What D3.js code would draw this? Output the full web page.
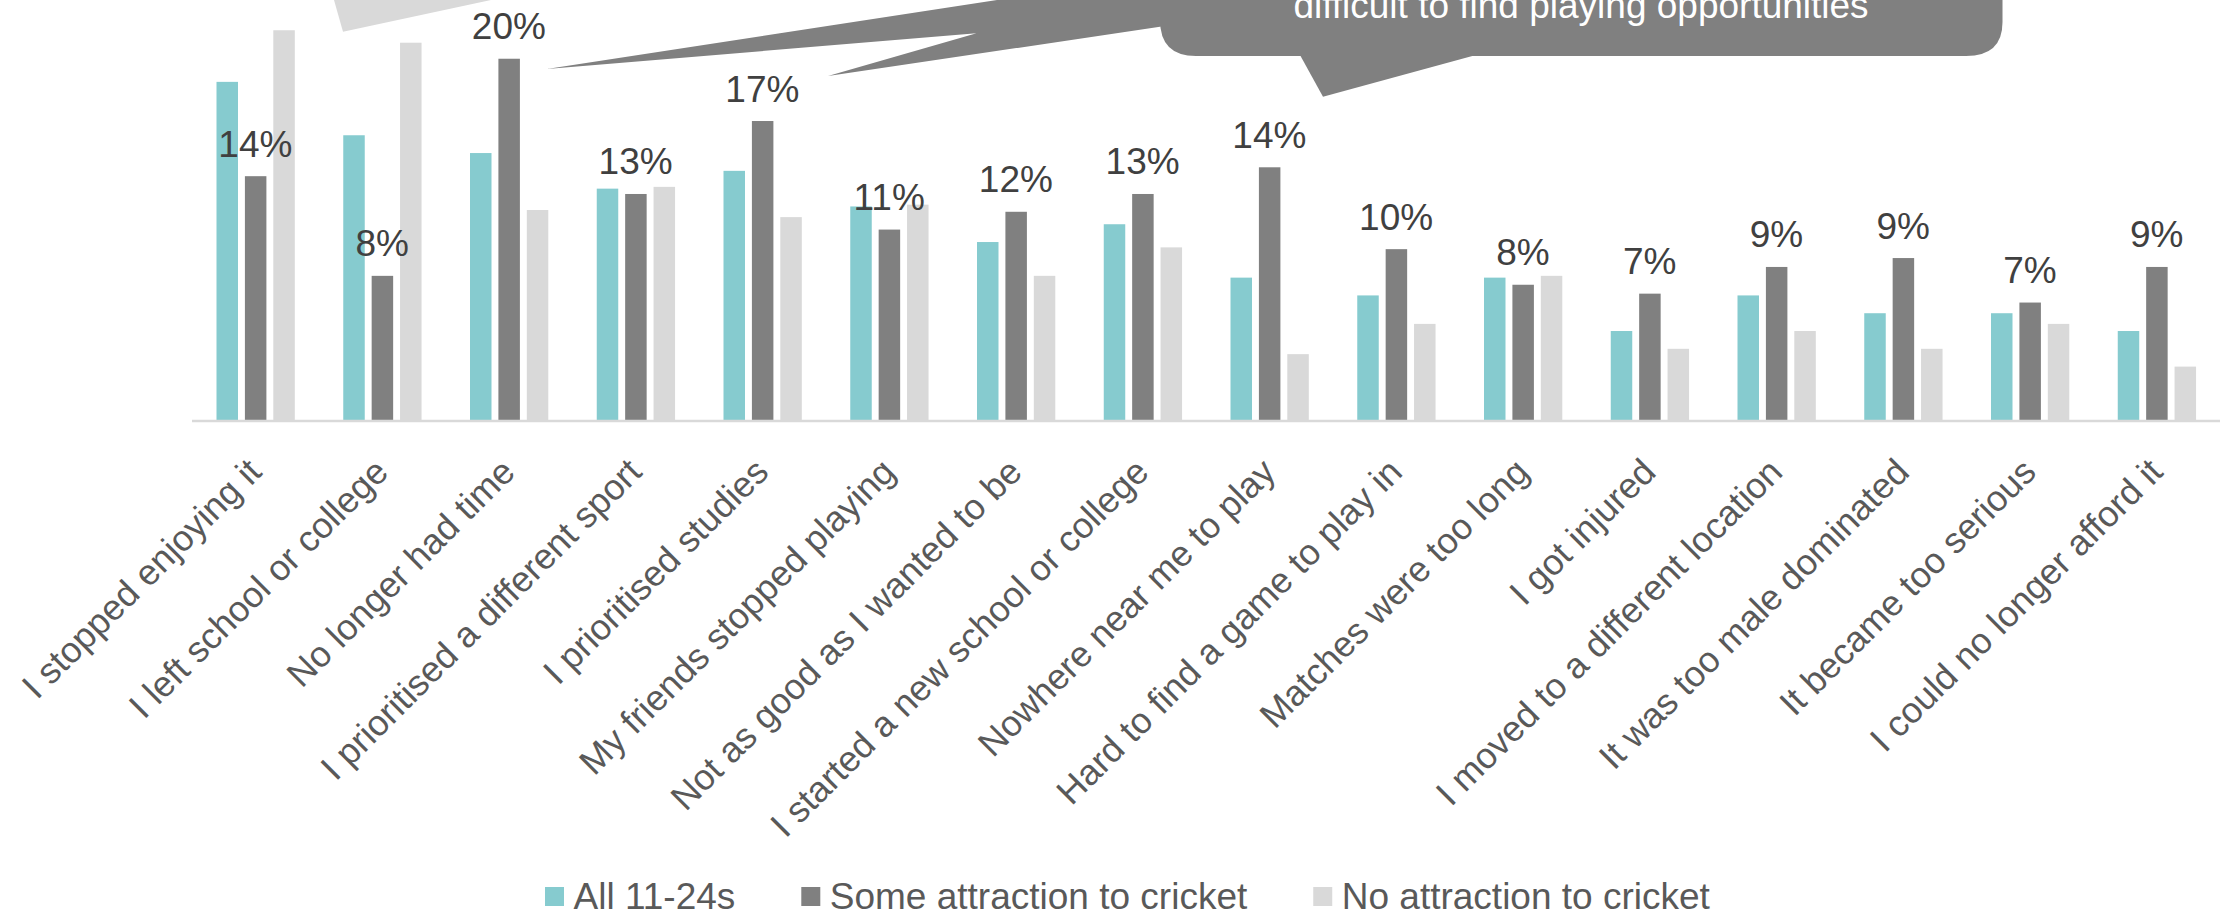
<!DOCTYPE html>
<html>
<head>
<meta charset="utf-8">
<script src="https://cdn.jsdelivr.net/npm/d3@7"></script>
<style>
  html, body { margin: 0; padding: 0; background: #fff; }
  svg { display: block; font-family: "Liberation Sans", Arial, sans-serif; }
</style>
</head>
<body>
<svg id="chart" width="2228" height="913"></svg>
<script>
// Reasons for stopping playing cricket (share of respondents, %)
const categories = [
  "I stopped enjoying it", "I left school or college", "No longer had time",
  "I prioritised a different sport", "I prioritised studies", "My friends stopped playing",
  "Not as good as I wanted to be", "I started a new school or college", "Nowhere near me to play",
  "Hard to find a game to play in", "Matches were too long", "I got injured",
  "I moved to a different location", "It was too male dominated", "It became too serious",
  "I could no longer afford it"
];
const seriesNames = ["All 11-24s", "Some attraction to cricket", "No attraction to cricket"];
const allValues  = [19, 16, 15, 13, 14, 12, 10, 11, 8, 7, 8, 5, 7, 6, 6, 5];
const someValues = [13.7, 8.1, 20.3, 12.7, 16.8, 10.7, 11.7, 12.7, 14.2, 9.6, 7.6, 7.1, 8.6, 9.1, 6.6, 8.6];
const noValues   = [21.9, 21.2, 11.8, 13.1, 11.4, 12.1, 8.1, 9.7, 3.7, 5.4, 8.1, 4.0, 5.0, 4.0, 5.4, 3.0];
const colors = ["#86cbcf", "#808080", "#d9d9d9"];

const svg = d3.select("#chart");
const baseY = 420;

const x = d3.scaleBand().domain(categories).range([192, 2220]);
const xInner = d3.scaleBand().domain(seriesNames).range([24.5, 102.8]).paddingInner(0.243);
const y = d3.scaleLinear().domain([0, 23.6]).range([baseY, 0]);

const rows = categories.map((c, i) => ({
  cat: c,
  vals: [allValues[i], someValues[i], noValues[i]]
}));

// callout shapes (partially cut off at the top of the picture)
svg.append("path")
  .attr("d", "M334,0 L343,31.7 L491,0 Z")
  .attr("fill", "#d9d9d9");

svg.append("path")
  .attr("d", "M997,-10 L997,0 L546.8,69 L976.5,33.3 L828,76 L1170,25.3 L1170,-10 Z")
  .attr("fill", "#808080");
svg.append("path")
  .attr("d", "M1160,-120 L2002.5,-120 L2002.5,22 Q2002.5,56 1966,56 L1196,56 Q1160,56 1160,20 Z")
  .attr("fill", "#808080");
svg.append("path")
  .attr("d", "M1300,55 L1323,96.7 L1476,55 Z")
  .attr("fill", "#808080");
svg.append("text")
  .attr("x", 1581).attr("y", 18)
  .attr("text-anchor", "middle")
  .attr("font-size", 37)
  .attr("fill", "#ffffff")
  .text("difficult to find playing opportunities");

// bars
const groups = svg.selectAll(".grp")
  .data(rows)
  .enter()
  .append("g")
  .attr("class", "grp")
  .attr("transform", d => `translate(${x(d.cat)},0)`);

groups.selectAll("rect")
  .data(d => d.vals.map((v, j) => ({ v, s: seriesNames[j], j })))
  .enter()
  .append("rect")
  .attr("x", d => xInner(d.s))
  .attr("width", xInner.bandwidth())
  .attr("y", d => y(d.v))
  .attr("height", d => baseY - y(d.v))
  .attr("fill", d => colors[d.j]);

// axis line
svg.append("line")
  .attr("x1", 192).attr("x2", 2220)
  .attr("y1", baseY + 1).attr("y2", baseY + 1)
  .attr("stroke", "#d9d9d9")
  .attr("stroke-width", 2.5);

// value labels for the "some attraction" series
groups.append("text")
  .attr("x", x.bandwidth() / 2)
  .attr("y", d => y(d.vals[1]) - 19.5)
  .attr("text-anchor", "middle")
  .attr("font-size", 37)
  .attr("fill", "#404040")
  .text(d => Math.round(d.vals[1]) + "%");

// category labels
svg.selectAll(".cat")
  .data(categories)
  .enter()
  .append("text")
  .attr("class", "cat")
  .attr("text-anchor", "end")
  .attr("font-size", 36)
  .attr("fill", "#595959")
  .attr("transform", d => `translate(${x(d) + x.bandwidth() / 2 + 8},474) rotate(-45)`)
  .text(d => d);

// legend
const legend = svg.append("g");
let lx = 545;
seriesNames.forEach((name, i) => {
  legend.append("rect")
    .attr("x", lx).attr("y", 887)
    .attr("width", 19).attr("height", 19)
    .attr("fill", colors[i]);
  const t = legend.append("text")
    .attr("x", lx + 28.5).attr("y", 909)
    .attr("font-size", 37)
    .attr("fill", "#595959")
    .text(name);
  lx += 28.5 + t.node().getComputedTextLength() + 66;
});
</script>
</body>
</html>
